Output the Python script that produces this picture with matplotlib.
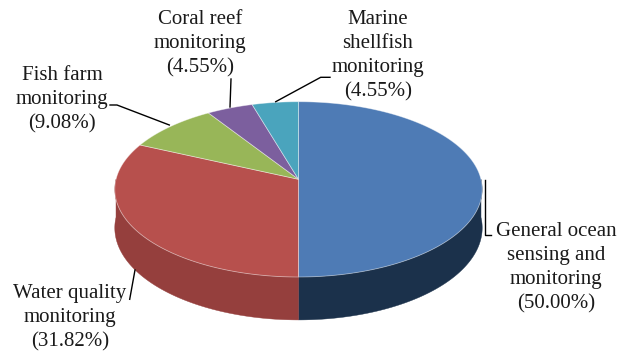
import numpy as np
import matplotlib
matplotlib.use("Agg")
import matplotlib.pyplot as plt
from matplotlib.patches import Polygon

# Share of each application area, clockwise from 12 o'clock
categories = [
    "General ocean\nsensing and\nmonitoring",
    "Water quality\nmonitoring",
    "Fish farm\nmonitoring",
    "Coral reef\nmonitoring",
    "Marine\nshellfish\nmonitoring",
]
shares = [50.00, 31.82, 9.08, 4.55, 4.55]
top_colors = ["#4E7BB5", "#B7504D", "#98B658", "#7C5F9E", "#4AA4BD"]
side_colors = ["#1B314B", "#953F3D", "#74893F", "#5D4677", "#347B8D"]

# Tilted-disc geometry (pixel units of the canvas)
CX, CY = 298.5, 179.3      # disc centre on screen
PERSP = 0.1147             # perspective foreshortening of the far half
RY = 86.5                  # vertical radius factor
RX = 183.7 * np.sqrt(1 - PERSP ** 2)
DEPTH = 38.0               # thickness of the disc


def project(theta_deg, drop=0.0):
    t = np.radians(theta_deg)
    d = 1 + PERSP * np.sin(t)
    x = CX + RX * np.cos(t) / d
    y = CY + (-RY * np.sin(t) + drop) / d
    return x, y


W, H = 629, 351
fig = plt.figure(figsize=(W / 100, H / 100), dpi=100)
ax = fig.add_axes([0, 0, 1, 1])
ax.set_xlim(0, W)
ax.set_ylim(H, 0)
ax.axis("off")

fractions = np.array(shares) / sum(shares)
bounds = 90 - 360 * np.concatenate([[0], np.cumsum(fractions)])

# Outer wall of the disc (front half only)
for i in range(len(shares)):
    a0, a1 = bounds[i + 1], bounds[i]
    lo, hi = max(a0, -180), min(a1, 0)
    if hi <= lo:
        continue
    th = np.linspace(lo, hi, 200)
    xt, yt = project(th)
    xb, yb = project(th, DEPTH)
    pts = np.column_stack([np.concatenate([xt, xb[::-1]]),
                           np.concatenate([yt, yb[::-1]])])
    ax.add_patch(Polygon(pts, closed=True, facecolor=side_colors[i],
                         edgecolor=side_colors[i], lw=0.3, zorder=1))

# Top face wedges
for i in range(len(shares)):
    th = np.linspace(bounds[i + 1], bounds[i], 200)
    xt, yt = project(th)
    pts = np.column_stack([np.concatenate([[CX], xt]),
                           np.concatenate([[CY], yt])])
    ax.add_patch(Polygon(pts, closed=True, facecolor=top_colors[i],
                         edgecolor=(1, 1, 1, 0.45), lw=0.6, zorder=2))

# Labels with leader lines
labels = [f"{c}\n({v:.2f}%)" for c, v in zip(categories, shares)]
label_pos = [(556, 268), (70, 318), (62, 100), (200, 44), (378, 56)]
leaders = [
    [(485, 180), (485, 235), (491, 235)],
    [(129.7, 299.3), (135, 270)],
    [(110, 105), (117, 105), (169.3, 125)],
    [(231, 79), (230, 107)],
    [(330, 77.3), (320.7, 77.3), (275.7, 101.7)],
]
for text, (x, y), path in zip(labels, label_pos, leaders):
    ax.text(x, y, text, ha="center", va="center", multialignment="center",
            family="Liberation Serif", fontsize=15, linespacing=1.36,
            color="#1a1a1a", zorder=4)
    px, py = zip(*path)
    ax.plot(px, py, color="black", lw=1.0, zorder=3)

fig.savefig("out.png", dpi=100, facecolor="white")
